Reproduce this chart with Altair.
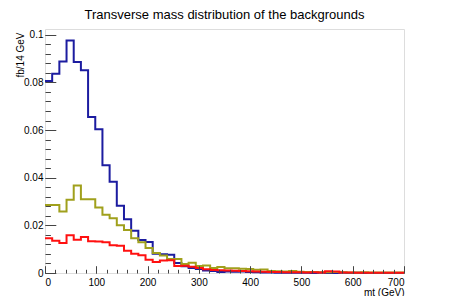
import altair as alt
import pandas as pd

# bins of 14 GeV from 0 to 700
bin_edges = [i * 14 for i in range(51)]

blue = [0.0806, 0.0836, 0.0888, 0.0976, 0.0886, 0.0851, 0.0655, 0.0603, 0.0452, 0.0383,
        0.0282, 0.0226, 0.0177, 0.0139, 0.0130, 0.0081, 0.0079, 0.0077, 0.0042, 0.0028,
        0.0021, 0.0017, 0.0011, 0.0008, 0.0004, 0.0006, 0.0005, 0.0006, 0.0004, 0.0003,
        0.0002, 0.0002, 0.0001, 0.0001, 0.0001, 0.0001, 0.0001, 0.0000, 0.0001, 0.0000,
        0.0000, 0.0001, 0.0000, 0.0001, 0.0000, 0.0000, 0.0000, 0.0000, 0.0000, 0.0000]

olive = [0.0285, 0.0285, 0.0258, 0.0307, 0.0367, 0.0310, 0.0309, 0.0275, 0.0244, 0.0230,
         0.0200, 0.0180, 0.0146, 0.0129, 0.0105, 0.0084, 0.0073, 0.0059, 0.0059, 0.0038,
         0.0043, 0.0029, 0.0032, 0.0021, 0.0025, 0.0020, 0.0020, 0.0018, 0.0017, 0.0014,
         0.0015, 0.0008, 0.0007, 0.0006, 0.0008, 0.0005, 0.0004, 0.0004, 0.0003, 0.0003,
         0.0004, 0.0003, 0.0002, 0.0002, 0.0003, 0.0002, 0.0002, 0.0002, 0.0002, 0.0002]

red = [0.0146, 0.0135, 0.0126, 0.0158, 0.0140, 0.0151, 0.0133, 0.0132, 0.0129, 0.0116,
       0.0114, 0.0093, 0.0081, 0.0074, 0.0056, 0.0046, 0.0052, 0.0053, 0.0029, 0.0030,
       0.0026, 0.0021, 0.0016, 0.0013, 0.0012, 0.0010, 0.0009, 0.0008, 0.0007, 0.0006,
       0.0005, 0.0004, 0.0004, 0.0003, 0.0003, 0.0003, 0.0002, 0.0003, 0.0002, 0.0007,
       0.0006, 0.0002, 0.0002, 0.0001, 0.0001, 0.0001, 0.0001, 0.0001, 0.0001, 0.0001]

x_major = [0, 100, 200, 300, 400, 500, 600, 700]
x_minor = [i * 20 for i in range(36)]
y_major = [0, 0.02, 0.04, 0.06, 0.08, 0.1]
y_minor = [round(i * 0.004, 3) for i in range(26)]

colors = {"blue": "#1c1ca0", "olive": "#a0a01c", "red": "#ff1010"}


def series_df(vals, name):
    return pd.DataFrame({"mt": bin_edges, "v": vals + [vals[-1]], "s": name})


df = pd.concat([series_df(blue, "blue"), series_df(olive, "olive"), series_df(red, "red")])

W, H = 359, 244
FONT = "Liberation Sans"

xs = alt.Scale(domain=[0, 700], nice=False, zero=False)
ys = alt.Scale(domain=[0, 0.1024], nice=False, zero=True)

lbl_x = alt.Axis(values=x_major, ticks=False, domain=False, grid=False, orient="bottom",
                 labelFontSize=10, labelFont=FONT, labelColor="black", labelPadding=4,
                 format="d", title="mt (GeV)", titleFont=FONT, titleFontSize=10,
                 titleFontWeight="normal", titleColor="black", titleAnchor="end",
                 titleAlign="right", titleBaseline="top", titleX=W, titleY=14)
lbl_y = alt.Axis(values=y_major, ticks=False, domain=False, grid=False, orient="left",
                 labelFontSize=10, labelFont=FONT, labelColor="black", labelPadding=2,
                 format=".2~f", title="fb/14 GeV", titleFont=FONT, titleFontSize=10,
                 titleFontWeight="normal", titleColor="black", titleAngle=270,
                 titleAlign="right", titleBaseline="middle", titleX=-25, titleY=3)


def tick_axis(vals, orient, size):
    return alt.Axis(values=vals, labels=False, domain=False, grid=False, orient=orient,
                    ticks=True, tickSize=size, offset=-size, tickColor="#444444",
                    tickWidth=1, title=None, zindex=1)


def line_layer(name, xaxis, yaxis):
    return alt.Chart(df[df.s == name]).mark_line(
        interpolate="step-after", strokeWidth=2, color=colors[name]
    ).encode(
        x=alt.X("mt:Q", scale=xs, axis=xaxis),
        y=alt.Y("v:Q", scale=ys, axis=yaxis),
    )


def axis_layer(xaxis, yaxis):
    return alt.Chart(df).mark_point(opacity=0).encode(
        x=alt.X("mt:Q", scale=xs, axis=xaxis),
        y=alt.Y("v:Q", scale=ys, axis=yaxis),
    )


chart = alt.layer(
    line_layer("blue", lbl_x, lbl_y),
    line_layer("olive", None, None),
    line_layer("red", None, None),
    axis_layer(tick_axis(x_major, "bottom", 7.3), tick_axis(y_major, "left", 10.8)),
    axis_layer(tick_axis(x_minor, "bottom", 3.7), tick_axis(y_minor, "left", 5.4)),
).resolve_axis(x="independent", y="independent").properties(
    width=W, height=H,
    title=alt.TitleParams("Transverse mass distribution of the backgrounds", font=FONT,
                          fontSize=13, fontWeight="normal", color="black",
                          anchor="middle", baseline="alphabetic", offset=-3),
    autosize=alt.AutoSizeParams(type="none"),
    padding={"left": 37, "top": 21, "right": 37, "bottom": 23},
).configure_view(stroke="#666666", strokeWidth=1).configure(background="white")

chart.save("out.html", embed_options={"renderer": "svg", "actions": False})
